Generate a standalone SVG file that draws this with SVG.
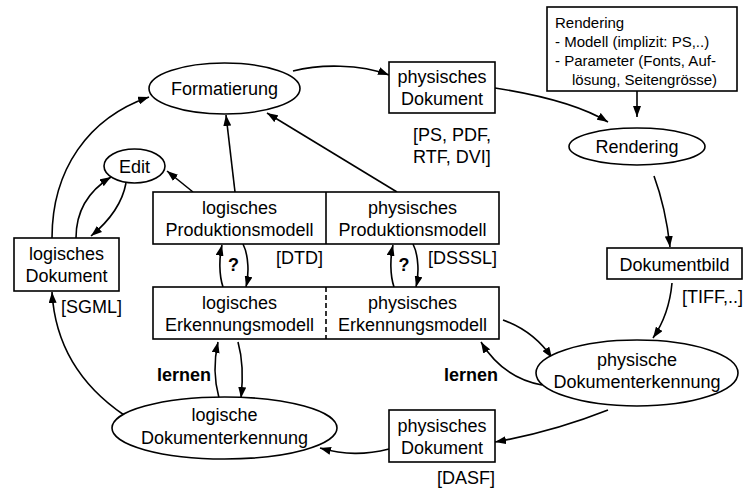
<svg xmlns="http://www.w3.org/2000/svg" width="746" height="488" viewBox="0 0 746 488">
  <style>
    text { font-family: "Liberation Sans", Arial, sans-serif; font-size: 18px; fill: #000; }
    .c { text-anchor: middle; }
    .b { font-weight: bold; }
    .sm { font-size: 15px; }
    .shape { fill: #fff; stroke: #000; stroke-width: 1.6; }
    .edge { fill: none; stroke: #000; stroke-width: 1.6; marker-end: url(#ah); }
    .line { fill: none; stroke: #000; stroke-width: 1.6; }
  </style>
  <defs>
    <marker id="ah" viewBox="0 0 11 8" refX="11" refY="4" markerWidth="11" markerHeight="8" markerUnits="userSpaceOnUse" orient="auto">
      <path d="M0,0 L11,4 L0,8 z" fill="#000"/>
    </marker>
  </defs>

  <rect width="746" height="488" fill="#fff"/>

  <!-- connectors -->
  <g id="connectors">
    <path class="edge" d="M52,238 C52,170 88,118 149,97"/>
    <path class="edge" d="M76,238 C76,210 90,190 111,177"/>
    <path class="edge" d="M126,183 C122,205 108,222 91,236"/>
    <path class="edge" d="M193,192 L167,171"/>
    <path class="edge" d="M235,192 L226,115"/>
    <path class="edge" d="M397,192 L267,113"/>
    <path class="edge" d="M293,71 C320,64 360,64 389,75"/>
    <path class="edge" d="M495,88 C540,95 580,105 608,122"/>
    <path class="edge" d="M637,91 L637,117"/>
    <path class="edge" d="M654,176 C661,195 667,220 670,247"/>
    <path class="edge" d="M672,283 C670,305 664,322 653,338"/>
    <path class="edge" d="M503,320 C525,328 540,340 552,358"/>
    <path class="edge" d="M542,385 C515,380 495,365 481,342"/>
    <path class="edge" d="M608,410 C570,425 535,435 495,442"/>
    <path class="edge" d="M389,449 C365,455 345,455 320,448"/>
    <path class="edge" d="M124,415 C80,385 55,345 52,292"/>
    <!-- lernen (logical) -->
    <path class="edge" d="M219,398 C214,380 214,360 218,342"/>
    <path class="edge" d="M238,342 C243,360 243,380 241,398"/>
    <!-- production / recognition model links -->
    <path class="edge" d="M223,287 C219,275 219,258 222,245"/>
    <path class="edge" d="M243,244 C249,256 249,275 246,287"/>
    <path class="edge" d="M394,287 C390,275 390,258 393,245"/>
    <path class="edge" d="M413,244 C419,256 419,275 416,287"/>
  </g>

  <!-- nodes -->
  <g id="formatierung">
    <ellipse class="shape" cx="224.5" cy="88.5" rx="75.5" ry="25.5"/>
    <text class="c" x="224.5" y="95">Formatierung</text>
  </g>

  <g id="edit">
    <ellipse class="shape" cx="134.5" cy="166" rx="30.5" ry="17"/>
    <text class="c" x="134.5" y="173">Edit</text>
  </g>

  <g id="logisches-dokument">
    <rect class="shape" x="14" y="238" width="105" height="53"/>
    <text class="c" x="66.5" y="260">logisches</text>
    <text class="c" x="66.5" y="282">Dokument</text>
  </g>

  <g id="produktionsmodell">
    <rect class="shape" x="153" y="192" width="346" height="52"/>
    <line class="line" x1="326" y1="192" x2="326" y2="244"/>
    <text class="c" x="239.5" y="213.5">logisches</text>
    <text class="c" x="239.5" y="235.5">Produktionsmodell</text>
    <text class="c" x="412.5" y="213.5">physisches</text>
    <text class="c" x="412.5" y="235.5">Produktionsmodell</text>
  </g>

  <g id="erkennungsmodell">
    <rect class="shape" x="153" y="287" width="346" height="52"/>
    <line class="line" x1="326" y1="287" x2="326" y2="339" stroke-dasharray="5,3"/>
    <text class="c" x="239.5" y="308.5">logisches</text>
    <text class="c" x="239.5" y="330.5">Erkennungsmodell</text>
    <text class="c" x="412.5" y="308.5">physisches</text>
    <text class="c" x="412.5" y="330.5">Erkennungsmodell</text>
  </g>

  <g id="physisches-dokument-oben">
    <rect class="shape" x="389" y="62" width="106" height="51"/>
    <text class="c" x="442" y="83">physisches</text>
    <text class="c" x="442" y="105">Dokument</text>
  </g>

  <g id="rendering-info">
    <rect class="shape" x="547" y="7" width="190" height="84"/>
    <text class="sm" x="555" y="28">Rendering</text>
    <text class="sm" x="555" y="47">- Modell (implizit: PS,..)</text>
    <text class="sm" x="555" y="66">- Parameter (Fonts, Auf-</text>
    <text class="sm" x="572" y="85">lösung, Seitengrösse)</text>
  </g>

  <g id="rendering">
    <ellipse class="shape" cx="637" cy="146.5" rx="68" ry="18.5"/>
    <text class="c" x="637" y="153">Rendering</text>
  </g>

  <g id="dokumentbild">
    <rect class="shape" x="607" y="248" width="135" height="31"/>
    <text class="c" x="674.5" y="271">Dokumentbild</text>
  </g>

  <g id="physische-dokumenterkennung">
    <ellipse class="shape" cx="637" cy="373" rx="101" ry="33"/>
    <text class="c" x="637" y="366">physische</text>
    <text class="c" x="637" y="387.5">Dokumenterkennung</text>
  </g>

  <g id="physisches-dokument-unten">
    <rect class="shape" x="389" y="410" width="106" height="52"/>
    <text class="c" x="442" y="431.5">physisches</text>
    <text class="c" x="442" y="453.5">Dokument</text>
  </g>

  <g id="logische-dokumenterkennung">
    <ellipse class="shape" cx="224.5" cy="428" rx="112.5" ry="31"/>
    <text class="c" x="224.5" y="421">logische</text>
    <text class="c" x="224.5" y="443.5">Dokumenterkennung</text>
  </g>

  <!-- format labels -->
  <g id="labels">
    <text x="413" y="141">[PS, PDF,</text>
    <text x="413" y="163">RTF, DVI]</text>
    <text x="276" y="264">[DTD]</text>
    <text x="428" y="264">[DSSSL]</text>
    <text x="61" y="313">[SGML]</text>
    <text x="682" y="303">[TIFF,..]</text>
    <text x="437" y="484">[DASF]</text>
    <text class="b" x="157" y="381">lernen</text>
    <text class="b" x="444" y="381">lernen</text>
    <text class="b c" x="233.5" y="271">?</text>
    <text class="b c" x="404" y="271">?</text>
  </g>
</svg>
